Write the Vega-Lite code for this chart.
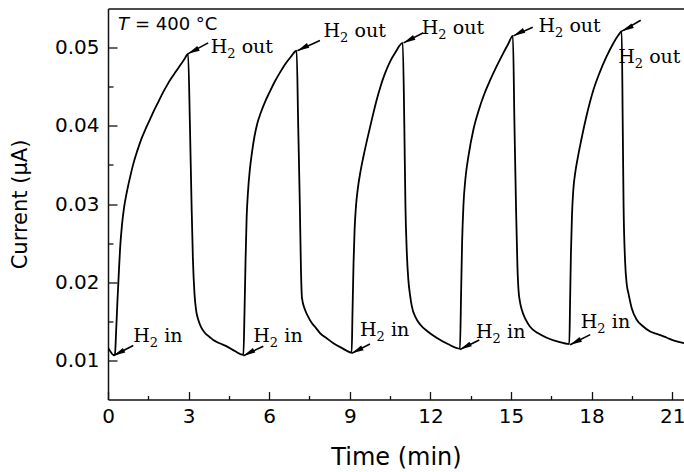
{
  "$schema": "https://vega.github.io/schema/vega-lite/v6.json",
  "width": 576,
  "height": 391,
  "autosize": {"type": "none"},
  "padding": {"left": 108, "top": 8.5, "right": 0, "bottom": 72.5},
  "background": "white",
  "config": {
    "view": {"stroke": null},
    "axis": {
      "domainColor": "#111", "domainWidth": 1.5, "tickColor": "#111", "tickWidth": 1.3,
      "grid": false, "labelFont": "DejaVu Sans", "labelFontSize": 20, "labelColor": "#000",
      "titleFont": "DejaVu Sans", "titleFontSize": 21, "titleFontWeight": "normal", "titleColor": "#000",
      "labelOverlap": false, "labelFlush": false
    }
  },
  "resolve": {"axis": {"x": "independent", "y": "independent"}},
  "datasets": {
    "curve": [
      {"t": 0.00, "i": 0.0116}, {"t": 0.10, "i": 0.0111}, {"t": 0.20, "i": 0.0107}, {"t": 0.26, "i": 0.0108},
      {"t": 0.30, "i": 0.0135}, {"t": 0.35, "i": 0.0175}, {"t": 0.40, "i": 0.0210}, {"t": 0.45, "i": 0.0243},
      {"t": 0.52, "i": 0.0273}, {"t": 0.60, "i": 0.0296}, {"t": 0.70, "i": 0.0315}, {"t": 0.82, "i": 0.0334},
      {"t": 0.94, "i": 0.0351}, {"t": 1.08, "i": 0.0367}, {"t": 1.24, "i": 0.0383}, {"t": 1.40, "i": 0.0396},
      {"t": 1.56, "i": 0.0408}, {"t": 1.72, "i": 0.0420}, {"t": 1.88, "i": 0.0431}, {"t": 2.04, "i": 0.0442},
      {"t": 2.20, "i": 0.0452}, {"t": 2.36, "i": 0.0461}, {"t": 2.52, "i": 0.0469}, {"t": 2.68, "i": 0.0477},
      {"t": 2.84, "i": 0.0485}, {"t": 2.98, "i": 0.0492},
      {"t": 3.05, "i": 0.0400}, {"t": 3.11, "i": 0.0300}, {"t": 3.16, "i": 0.0230}, {"t": 3.22, "i": 0.0185},
      {"t": 3.28, "i": 0.0164}, {"t": 3.36, "i": 0.0152}, {"t": 3.46, "i": 0.0143}, {"t": 3.61, "i": 0.0135},
      {"t": 3.78, "i": 0.0130}, {"t": 3.92, "i": 0.0126}, {"t": 4.15, "i": 0.0122}, {"t": 4.42, "i": 0.0118},
      {"t": 4.72, "i": 0.0112}, {"t": 5.04, "i": 0.0107},
      {"t": 5.08, "i": 0.0160}, {"t": 5.12, "i": 0.0228}, {"t": 5.16, "i": 0.0282}, {"t": 5.21, "i": 0.0315},
      {"t": 5.28, "i": 0.0344}, {"t": 5.36, "i": 0.0366}, {"t": 5.45, "i": 0.0386}, {"t": 5.55, "i": 0.0402},
      {"t": 5.70, "i": 0.0418}, {"t": 5.85, "i": 0.0431}, {"t": 6.00, "i": 0.0442}, {"t": 6.20, "i": 0.0456},
      {"t": 6.40, "i": 0.0468}, {"t": 6.60, "i": 0.0479}, {"t": 6.80, "i": 0.0488}, {"t": 7.02, "i": 0.0496},
      {"t": 7.08, "i": 0.0400}, {"t": 7.14, "i": 0.0300}, {"t": 7.18, "i": 0.0220}, {"t": 7.22, "i": 0.0180},
      {"t": 7.33, "i": 0.0165}, {"t": 7.45, "i": 0.0156}, {"t": 7.58, "i": 0.0148}, {"t": 7.75, "i": 0.0141},
      {"t": 7.89, "i": 0.0135}, {"t": 8.15, "i": 0.0128}, {"t": 8.39, "i": 0.0122}, {"t": 8.70, "i": 0.0116},
      {"t": 9.07, "i": 0.0110},
      {"t": 9.10, "i": 0.0160}, {"t": 9.14, "i": 0.0225}, {"t": 9.18, "i": 0.0268}, {"t": 9.23, "i": 0.0297},
      {"t": 9.30, "i": 0.0320}, {"t": 9.40, "i": 0.0342}, {"t": 9.51, "i": 0.0361}, {"t": 9.65, "i": 0.0383},
      {"t": 9.80, "i": 0.0405}, {"t": 10.00, "i": 0.0433}, {"t": 10.15, "i": 0.0451}, {"t": 10.30, "i": 0.0466},
      {"t": 10.50, "i": 0.0482}, {"t": 10.70, "i": 0.0494}, {"t": 10.97, "i": 0.0506},
      {"t": 11.03, "i": 0.0400}, {"t": 11.07, "i": 0.0300}, {"t": 11.12, "i": 0.0240}, {"t": 11.18, "i": 0.0203},
      {"t": 11.25, "i": 0.0182}, {"t": 11.31, "i": 0.0169}, {"t": 11.45, "i": 0.0155}, {"t": 11.62, "i": 0.0146},
      {"t": 11.90, "i": 0.0137}, {"t": 12.23, "i": 0.0129}, {"t": 12.65, "i": 0.0121}, {"t": 13.10, "i": 0.0115},
      {"t": 13.14, "i": 0.0180}, {"t": 13.18, "i": 0.0250}, {"t": 13.23, "i": 0.0298}, {"t": 13.30, "i": 0.0331},
      {"t": 13.42, "i": 0.0362}, {"t": 13.60, "i": 0.0395}, {"t": 13.80, "i": 0.0420}, {"t": 14.00, "i": 0.0440},
      {"t": 14.22, "i": 0.0458}, {"t": 14.45, "i": 0.0475}, {"t": 14.70, "i": 0.0492}, {"t": 14.90, "i": 0.0505},
      {"t": 15.07, "i": 0.0515},
      {"t": 15.13, "i": 0.0400}, {"t": 15.19, "i": 0.0292}, {"t": 15.24, "i": 0.0220}, {"t": 15.28, "i": 0.0190},
      {"t": 15.34, "i": 0.0174}, {"t": 15.40, "i": 0.0165}, {"t": 15.55, "i": 0.0152}, {"t": 15.71, "i": 0.0143},
      {"t": 16.00, "i": 0.0135}, {"t": 16.33, "i": 0.0129}, {"t": 16.75, "i": 0.0124}, {"t": 17.17, "i": 0.0121},
      {"t": 17.20, "i": 0.0175}, {"t": 17.23, "i": 0.0235}, {"t": 17.27, "i": 0.0285}, {"t": 17.32, "i": 0.0318},
      {"t": 17.40, "i": 0.0342}, {"t": 17.48, "i": 0.0358}, {"t": 17.57, "i": 0.0374}, {"t": 17.80, "i": 0.0411},
      {"t": 18.07, "i": 0.0446}, {"t": 18.30, "i": 0.0468}, {"t": 18.55, "i": 0.0488}, {"t": 18.80, "i": 0.0505},
      {"t": 19.00, "i": 0.0516}, {"t": 19.12, "i": 0.0521},
      {"t": 19.16, "i": 0.0400}, {"t": 19.19, "i": 0.0300}, {"t": 19.25, "i": 0.0225}, {"t": 19.31, "i": 0.0197},
      {"t": 19.37, "i": 0.0186}, {"t": 19.50, "i": 0.0166}, {"t": 19.68, "i": 0.0152}, {"t": 19.90, "i": 0.0144},
      {"t": 20.18, "i": 0.0137}, {"t": 20.50, "i": 0.0133}, {"t": 20.80, "i": 0.0129}, {"t": 21.10, "i": 0.0125},
      {"t": 21.44, "i": 0.0122}
    ],
    "arrows": [
      {"t": 3.73, "v": 0.0506, "t2": 2.97, "v2": 0.0492},
      {"t": 7.89, "v": 0.0509, "t2": 7.05, "v2": 0.0496},
      {"t": 11.74, "v": 0.0519, "t2": 11.0, "v2": 0.0506},
      {"t": 15.81, "v": 0.0526, "t2": 15.09, "v2": 0.0515},
      {"t": 19.83, "v": 0.0535, "t2": 19.13, "v2": 0.0521},
      {"t": 0.94, "v": 0.0119, "t2": 0.20, "v2": 0.0106},
      {"t": 5.78, "v": 0.0118, "t2": 5.04, "v2": 0.0106},
      {"t": 9.75, "v": 0.0121, "t2": 9.07, "v2": 0.0109},
      {"t": 13.82, "v": 0.0126, "t2": 13.10, "v2": 0.0114},
      {"t": 17.95, "v": 0.0133, "t2": 17.20, "v2": 0.0120}
    ],
    "labels": [
      {"t": 3.82, "v": 0.0493, "w": "out"},
      {"t": 8.02, "v": 0.0513, "w": "out"},
      {"t": 11.68, "v": 0.0518, "w": "out"},
      {"t": 16.02, "v": 0.0520, "w": "out"},
      {"t": 18.99, "v": 0.0480, "w": "out"},
      {"t": 0.94, "v": 0.0123, "w": "in"},
      {"t": 5.41, "v": 0.0123, "w": "in"},
      {"t": 9.38, "v": 0.0131, "w": "in"},
      {"t": 13.70, "v": 0.0129, "w": "in"},
      {"t": 17.60, "v": 0.0141, "w": "in"}
    ],
    "temp": [{"t": 0.37, "v": 0.0522}]
  },
  "layer": [
    {
      "data": {"name": "curve"},
      "mark": {"type": "line", "color": "#000", "strokeWidth": 1.8, "clip": true, "interpolate": "monotone"},
      "encoding": {
        "x": {
          "field": "t", "type": "quantitative",
          "scale": {"domain": [0, 21.44], "nice": false, "zero": false},
          "axis": {
            "orient": "bottom",
            "title": "Time (min)",
            "titleFontSize": 24,
            "values": [0, 3, 6, 9, 12, 15, 18, 21],
            "format": "d",
            "tickSize": -8,
            "labelPadding": 15,
            "titlePadding": 19
          }
        },
        "y": {
          "field": "i", "type": "quantitative",
          "scale": {"domain": [0.005, 0.055], "nice": false, "zero": false},
          "axis": {
            "orient": "left",
            "title": "Current (μA)",
            "values": [0.01, 0.02, 0.03, 0.04, 0.05],
            "format": ".2f",
            "tickSize": -9,
            "labelPadding": 18,
            "titlePadding": 24
          }
        }
      }
    },
    {
      "data": {"name": "arrows"},
      "mark": {"type": "rule", "color": "#000", "strokeWidth": 1.6},
      "encoding": {
        "x": {
          "field": "t", "type": "quantitative",
          "axis": {"orient": "bottom", "values": [1.5, 4.5, 7.5, 10.5, 13.5, 16.5, 19.5], "labels": false, "domain": false, "title": null, "tickSize": -4}
        },
        "y": {
          "field": "v", "type": "quantitative",
          "axis": {"orient": "left", "values": [0.015, 0.025, 0.035, 0.045], "labels": false, "domain": false, "title": null, "tickSize": -5}
        },
        "x2": {"field": "t2"},
        "y2": {"field": "v2"}
      }
    },
    {
      "data": {"name": "arrows"},
      "mark": {"type": "point", "shape": "M0,0L-0.22,1L0.22,1Z", "filled": true, "color": "#000", "opacity": 1, "size": 576, "angle": 243, "strokeWidth": 0},
      "encoding": {
        "x": {
          "field": "t2", "type": "quantitative",
          "axis": {"orient": "top", "ticks": false, "labels": false, "title": null}
        },
        "y": {"field": "v2", "type": "quantitative", "axis": null}
      }
    },
    {
      "data": {"name": "labels"},
      "mark": {"type": "text", "font": "DejaVu Serif", "fontSize": 19, "align": "left", "baseline": "alphabetic", "color": "#000"},
      "encoding": {
        "x": {"field": "t", "type": "quantitative", "axis": null},
        "y": {"field": "v", "type": "quantitative", "axis": null},
        "text": {"value": "H"}
      }
    },
    {
      "data": {"name": "labels"},
      "mark": {"type": "text", "font": "DejaVu Serif", "fontSize": 13, "align": "left", "baseline": "alphabetic", "color": "#000", "dx": 16.5, "dy": 5},
      "encoding": {
        "x": {"field": "t", "type": "quantitative", "axis": null},
        "y": {"field": "v", "type": "quantitative", "axis": null},
        "text": {"value": "2"}
      }
    },
    {
      "data": {"name": "labels"},
      "mark": {"type": "text", "font": "DejaVu Serif", "fontSize": 19, "align": "left", "baseline": "alphabetic", "color": "#000", "dx": 31},
      "encoding": {
        "x": {"field": "t", "type": "quantitative", "axis": null},
        "y": {"field": "v", "type": "quantitative", "axis": null},
        "text": {"field": "w"}
      }
    },
    {
      "data": {"name": "temp"},
      "mark": {"type": "text", "font": "DejaVu Sans", "fontSize": 18, "fontStyle": "italic", "align": "left", "baseline": "alphabetic", "color": "#000"},
      "encoding": {
        "x": {"field": "t", "type": "quantitative", "axis": null},
        "y": {"field": "v", "type": "quantitative", "axis": null},
        "text": {"value": "T"}
      }
    },
    {
      "data": {"name": "temp"},
      "mark": {"type": "text", "font": "DejaVu Sans", "fontSize": 18, "align": "left", "baseline": "alphabetic", "color": "#000", "dx": 17},
      "encoding": {
        "x": {"field": "t", "type": "quantitative", "axis": null},
        "y": {"field": "v", "type": "quantitative", "axis": null},
        "text": {"value": "= 400 °C"}
      }
    }
  ]
}
